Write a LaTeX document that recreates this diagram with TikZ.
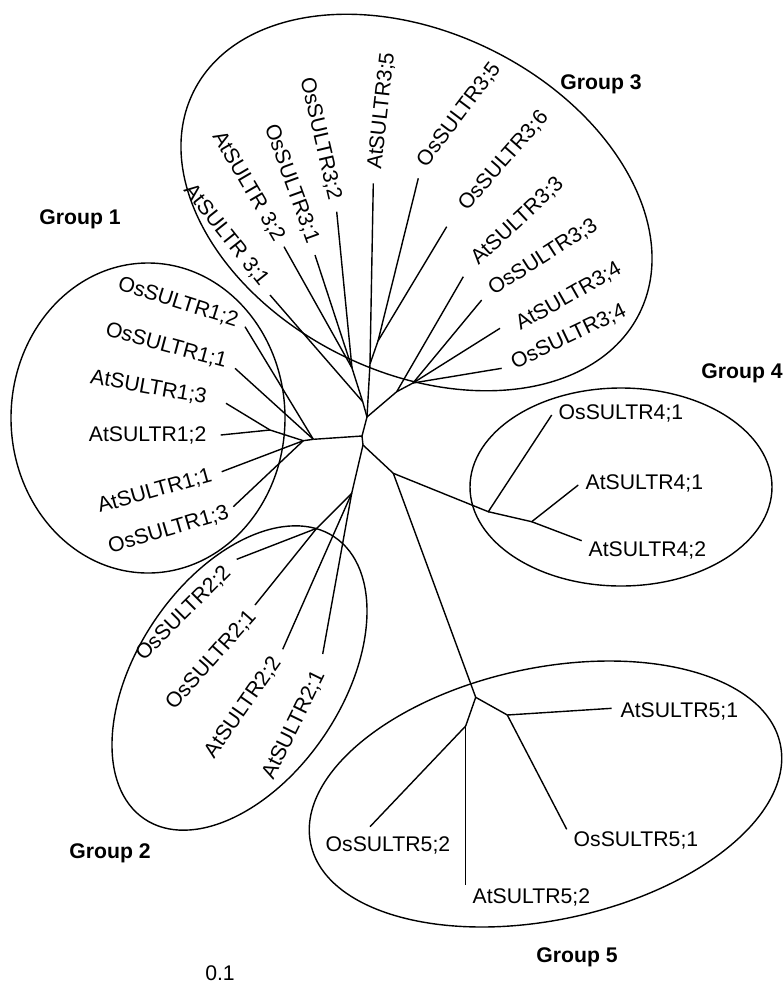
\documentclass[tikz,border=0pt]{standalone}
\usepackage{fontspec}
\setmainfont{Liberation Sans}
\begin{document}
\begin{tikzpicture}[x=0.5pt,y=0.5pt,line width=0.7pt]
    \tikzstyle{every node}+=[inner sep=0pt,font=\fontsize{10.6}{12}\selectfont]
    \tikzstyle{grp}=[font=\fontsize{10.6}{12}\selectfont\bfseries]
    \useasboundingbox (0,0) rectangle (783,-987);
    % group ellipses
    \draw [black] (148,-418) ellipse (137 and 155);
    \draw [black, rotate around={-26.4:(416.5,-202.5)}] (416.5,-202.5) ellipse (249 and 170);
    \draw [black, rotate around={56:(239.5,-678)}] (239.5,-678) ellipse (170 and 102.5);
    \draw [black] (621,-487) ellipse (151 and 99);
    \draw [black, rotate around={12:(545.5,-794)}] (545.5,-794) ellipse (240 and 126);
    % inner nodes
    \coordinate (c0) at (362,-436);
    \coordinate (cl) at (363,-445);
    \coordinate (c3) at (367,-417);
    \coordinate (g3l) at (362.7,-401.7);
    \coordinate (g3l1) at (352,-368);
    \coordinate (g3b) at (370,-364);
    \coordinate (g3c) at (378,-341);
    \coordinate (g3r) at (396.7,-391.7);
    \coordinate (g3s) at (413,-383);
    \coordinate (g1) at (313.3,-439.3);
    \coordinate (g1c) at (303.3,-440.7);
    \coordinate (g1b) at (270,-430);
    \coordinate (g2a) at (351.7,-493.3);
    \coordinate (g2b) at (316.7,-528.3);
    \coordinate (g45) at (393.3,-473.3);
    \coordinate (g4) at (488.3,-511.7);
    \coordinate (g4b) at (531.7,-521.7);
    \coordinate (g5) at (475.7,-697.3);
    \coordinate (g5r) at (507.3,-715);
    \coordinate (g5l) at (465.7,-726);
    % leaf ends
    \coordinate (at31) at (270,-295);
    \coordinate (at32) at (284,-246.7);
    \coordinate (os31) at (315,-255);
    \coordinate (os32) at (336.7,-211.7);
    \coordinate (at35) at (373.3,-183.3);
    \coordinate (os35) at (418.3,-178.3);
    \coordinate (os36) at (446.7,-226.7);
    \coordinate (at33) at (463.3,-276.7);
    \coordinate (os33) at (481.7,-300);
    \coordinate (at34) at (500,-328.3);
    \coordinate (os34) at (501.7,-368.3);
    \coordinate (os12) at (245,-326.7);
    \coordinate (os11) at (235,-368.3);
    \coordinate (at13) at (226,-403.3);
    \coordinate (at12) at (220.7,-435);
    \coordinate (at11) at (221.7,-471.7);
    \coordinate (os13) at (233.3,-506.7);
    \coordinate (os22) at (236.7,-559.3);
    \coordinate (os21) at (255,-605);
    \coordinate (at22) at (282.7,-649.3);
    \coordinate (at21) at (322.7,-654);
    \coordinate (os41) at (551.7,-415);
    \coordinate (at41) at (578.3,-485);
    \coordinate (at42) at (581.7,-540.7);
    \coordinate (at51) at (611.7,-708.3);
    \coordinate (os51) at (566.7,-829.3);
    \coordinate (os52) at (370,-826.7);
    \coordinate (at52) at (465.7,-885);
    % branches
    \draw [black] (g1) -- (c0) -- (cl);
    \draw [black] (c0) -- (c3) -- (g3l) -- (g3l1);
    \draw [black] (c3) -- (g3b) -- (g3c);
    \draw [black] (c3) -- (g3r) -- (g3s);
    \draw [black] (g3l) -- (at31);
    \draw [black] (g3l1) -- (at32);
    \draw [black] (g3l1) -- (os31);
    \draw [black] (g3l1) -- (os32);
    \draw [black] (g3b) -- (at35);
    \draw [black] (g3c) -- (os35);
    \draw [black] (g3c) -- (os36);
    \draw [black] (g3r) -- (at33);
    \draw [black] (g3s) -- (os33);
    \draw [black] (g3s) -- (at34);
    \draw [black] (g3s) -- (os34);
    \draw [black] (g1) -- (os12);
    \draw [black] (g1) -- (os11);
    \draw [black] (g1) -- (g1c) -- (g1b) -- (at13);
    \draw [black] (g1b) -- (at12);
    \draw [black] (g1c) -- (at11);
    \draw [black] (g1c) -- (os13);
    \draw [black] (cl) -- (g2a) -- (g2b) -- (os22);
    \draw [black] (g2b) -- (os21);
    \draw [black] (g2a) -- (at22);
    \draw [black] (g2a) -- (at21);
    \draw [black] (cl) -- (g45) -- (g4) -- (os41);
    \draw [black] (g4) -- (g4b) -- (at41);
    \draw [black] (g4b) -- (at42);
    \draw [black] (g45) -- (g5) -- (g5r) -- (at51);
    \draw [black] (g5r) -- (os51);
    \draw [black] (g5) -- (g5l) -- (os52);
    \draw [black] (g5l) -- (at52);
    % labels
    \node [anchor=east, rotate=-51.5] (at31t) at (265,-284) {AtSULTR 3;1};
    \node [anchor=east, rotate=-59.6] (at32t) at (280,-240) {AtSULTR 3;2};
    \node [anchor=east, rotate=-70] (os31t) at (313,-243) {OsSULTR3;1};
    \node [anchor=east, rotate=-76.7] (os32t) at (335,-200) {OsSULTR3;2};
    \node [anchor=west, rotate=83.6] (at35t) at (375,-170) {AtSULTR3;5};
    \node [anchor=west, rotate=53] (os35t) at (421,-165) {OsSULTR3;5};
    \node [anchor=west, rotate=48.7] (os36t) at (462,-208) {OsSULTR3;6};
    \node [anchor=west, rotate=43] (at33t) at (474,-262) {AtSULTR3;3};
    \node [anchor=west, rotate=32.6] (os33t) at (490,-291) {OsSULTR3;3};
    \node [anchor=west, rotate=29.6] (at34t) at (517,-326) {AtSULTR3;4};
    \node [anchor=west, rotate=25.5] (os34t) at (512,-364) {OsSULTR3;4};
    \node [anchor=east, rotate=-17.5] (os12t) at (238,-321) {OsSULTR1;2};
    \node [anchor=east, rotate=-15] (os11t) at (227,-362) {OsSULTR1;1};
    \node [anchor=east, rotate=-10] (at13t) at (207,-398) {AtSULTR1;3};
    \node [anchor=east] (at12t) at (207,-435.5) {AtSULTR1;2};
    \node [anchor=east, rotate=15.8] (at11t) at (212,-475) {AtSULTR1;1};
    \node [anchor=east, rotate=16.5] (os13t) at (229,-512) {OsSULTR1;3};
    \node [anchor=east, rotate=45] (os22t) at (228,-569) {OsSULTR2;2};
    \node [anchor=east, rotate=48.4] (os21t) at (253,-613) {OsSULTR2;1};
    \node [anchor=east, rotate=55] (at22t) at (277,-659) {AtSULTR2;2};
    \node [anchor=east, rotate=63.8] (at21t) at (320,-672) {AtSULTR2;1};
    \node [anchor=west] (os41t) at (558,-413) {OsSULTR4;1};
    \node [anchor=west] (at41t) at (585,-483) {AtSULTR4;1};
    \node [anchor=west] (at42t) at (588,-550) {AtSULTR4;2};
    \node [anchor=west] (at51t) at (620,-711) {AtSULTR5;1};
    \node [anchor=west] (os51t) at (573,-840) {OsSULTR5;1};
    \node [anchor=west] (os52t) at (325,-845) {OsSULTR5;2};
    \node [anchor=west] (at52t) at (472,-897) {AtSULTR5;2};
    \node [grp] (grp1) at (80,-219) {Group 1};
    \node [grp] (grp2) at (110,-853) {Group 2};
    \node [grp] (grp3) at (601,-84) {Group 3};
    \node [grp] (grp4) at (742,-373) {Group 4};
    \node [grp] (grp5) at (577,-957) {Group 5};
    \node (scale) at (220,-973) {0.1};
\end{tikzpicture}
\end{document}
